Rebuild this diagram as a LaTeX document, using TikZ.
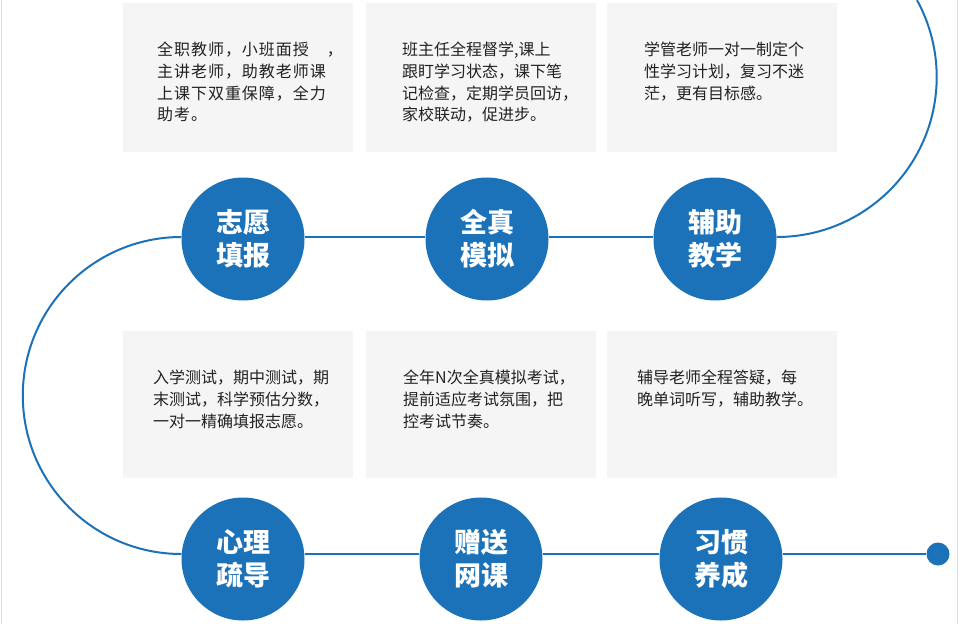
\documentclass[tikz,border=0pt]{standalone}
\usepackage{fontspec}
\setmainfont{Noto Sans CJK SC}
\newfontfamily\cjkwide[LetterSpace=6]{Noto Sans CJK SC}
\definecolor{stepblue}{HTML}{1B72B9}
\definecolor{cardgray}{HTML}{F5F5F5}
\definecolor{cardink}{HTML}{222222}
\definecolor{edgegray}{HTML}{DDDDDD}

\begin{document}
\begin{tikzpicture}[x=1pt, y=-1pt,
  cardtext/.style={anchor=north west, align=left, inner sep=0pt, text=cardink,
    font=\fontsize{16}{21.7}\selectfont},
  stage/.style={circle, fill=stepblue, minimum size=123pt, inner sep=0pt,
    text=white, align=center, font=\fontsize{27}{33}\selectfont\bfseries},
  track/.style={draw=stepblue, line width=2pt}]
\def\ty{239}     % top row circle y
\def\by{559}     % bottom row circle y
\def\ct{42}      % top cards, text top
\def\cb{370}     % bottom cards, text top
\useasboundingbox (0,0) rectangle (959,624);
%% Page edges
\draw[edgegray] (1,0) -- (1,624);
\draw[edgegray] (957.5,0) -- (957.5,624);
%% Cards, top row: y in [3, 152]
\fill[cardgray] (123,3) rectangle (353,152);
\fill[cardgray] (366,3) rectangle (596,152);
\fill[cardgray] (607,3) rectangle (837,152);
\node[cardtext, font=\fontsize{16}{21.7}\cjkwide] (t1) at (157,\ct)
  {全职教师，小班面授　，\\主讲老师，助教老师课\\上课下双重保障，全力\\助考。};
\node[cardtext] (t2) at (402,\ct)
  {班主任全程督学,课上\\跟盯学习状态，课下笔\\记检查，定期学员回访，\\家校联动，促进步。};
\node[cardtext] (t3) at (644,\ct)
  {学管老师一对一制定个\\性学习计划，复习不迷\\茫，更有目标感。};
%% Cards, bottom row: y in [331, 478]
\fill[cardgray] (123,331) rectangle (353,478);
\fill[cardgray] (366,331) rectangle (596,478);
\fill[cardgray] (607,331) rectangle (837,478);
\node[cardtext] (b1) at (153,\cb)
  {入学测试，期中测试，期\\末测试，科学预估分数，\\一对一精确填报志愿。};
\node[cardtext] (b2) at (403,\cb)
  {全年N次全真模拟考试，\\提前适应考试氛围，把\\控考试节奏。};
\node[cardtext] (b3) at (637,\cb)
  {辅导老师全程答疑，每\\晚单词听写，辅助教学。};
%% Stages
\node[stage] (xz) at (243,\ty) {志愿\\填报};
\node[stage] (qz) at (487,\ty) {全真\\模拟};
\node[stage] (fz) at (715,\ty) {辅助\\教学};
\node[stage] (xl) at (243,\by) {心理\\疏导};
\node[stage] (zs) at (481,\by) {赠送\\网课};
\node[stage] (xg) at (721,\by) {习惯\\养成};
\node[circle, fill=stepblue, minimum size=23pt, inner sep=0pt] (end) at (938,554) {};
%% Track
\draw[track] ([yshift=2pt]fz.east) arc[start angle=90, end angle=-28.7, radius=160];
\draw[track] ([yshift=2pt]xz.east) -- ([yshift=2pt]qz.west);
\draw[track] ([yshift=2pt]qz.east) -- ([yshift=2pt]fz.west);
\draw[track] ([yshift=2pt]xz.west) arc[start angle=270, end angle=90, radius=158.5];
\draw[track] ([yshift=5pt]xl.east) -- ([yshift=5pt]zs.west);
\draw[track] ([yshift=5pt]zs.east) -- ([yshift=5pt]xg.west);
\draw[track] ([yshift=5pt]xg.east) -- (end);
\end{tikzpicture}
\end{document}
